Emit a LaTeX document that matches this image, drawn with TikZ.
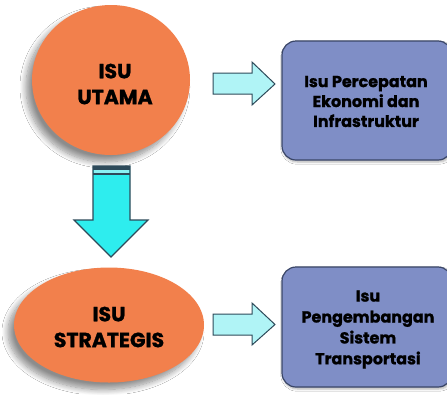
\documentclass[tikz,border=0pt]{standalone}
\usepackage{fontspec}
\setmainfont{Poppins}[BoldFeatures={FakeBold=1.2}]
\usetikzlibrary{shapes.geometric,shadows.blur}
\definecolor{orng}{HTML}{F2804C}
\definecolor{boxfill}{HTML}{7F8EC6}
\definecolor{boxline}{HTML}{3A4668}
\definecolor{lcyan}{HTML}{B0F4F6}
\definecolor{dcyan}{HTML}{2EEDEE}
\definecolor{aline}{HTML}{2E4A5A}
\tikzset{
  bigell/.style={ellipse, fill=orng, draw=none, align=center,
    font=\bfseries\fontsize{20.5}{26}\selectfont, text=black,
    blur shadow={shadow xshift=-6bp, shadow yshift=-7bp, shadow blur steps=10, shadow blur radius=6bp, shadow opacity=45}},
  issuebox/.style={rectangle, rounded corners=14bp, fill=boxfill, draw=boxline, line width=1.2bp,
    align=center, font=\bfseries\fontsize{16}{20.5}\selectfont, text=black,
    blur shadow={shadow xshift=1bp, shadow yshift=-2bp, shadow blur steps=5, shadow opacity=30}},
  harrow/.style={fill=lcyan, draw=aline, line width=1bp, line join=miter},
  varrow/.style={fill=dcyan, draw=aline, line width=1.2bp, line join=miter}
}
\begin{document}
\begin{tikzpicture}[x=1bp,y=-1bp]
\useasboundingbox[fill=white] (0,0) rectangle (447,394);
\node[bigell, minimum width=158bp, minimum height=150bp] (utama) at (111,80) {};
\node[font=\bfseries\fontsize{20.5}{26}\selectfont, align=center] (utamat) at (115,84) {ISU\\UTAMA};
\node[bigell, minimum width=190bp, minimum height=115bp] (strat) at (109,325) {};
\node[font=\bfseries\fontsize{20.5}{26}\selectfont, align=center] (stratt) at (109,327) {ISU\\STRATEGIS};
\node[issuebox, minimum width=170bp, minimum height=119bp] (b1) at (367,100.5) {};
\node[font=\bfseries\fontsize{16}{20}\selectfont, align=center] (b1t) at (366,101.5) {Isu Percepatan\\Ekonomi dan\\Infrastruktur};
\node[issuebox, minimum width=170bp, minimum height=120bp] (b2) at (367,327) {};
\node[font=\bfseries\fontsize{16}{21}\selectfont, align=center] (b2t) at (368,329.5) {Isu\\Pengembangan\\Sistem\\Transportasi};
% horizontal arrows
\draw[harrow] (213,73) -- (252,73) -- (252,62) -- (275,84) -- (252,105) -- (252,94) -- (213,94) -- cycle;
\draw[harrow] (213,314) -- (252,314) -- (252,303) -- (275,324.5) -- (252,345) -- (252,335) -- (213,335) -- cycle;
% down arrow
\draw[varrow] (93,166) -- (130,166) -- (130,220) -- (148,220) -- (111,257) -- (74,220) -- (93,220) -- cycle;
\fill[aline] (93,166) rectangle (130,169.5);
\fill[lcyan!70!dcyan] (93.6,169.5) rectangle (129.4,172.5);
\fill[aline] (93,172.5) rectangle (130,174.5);
\end{tikzpicture}
\end{document}
